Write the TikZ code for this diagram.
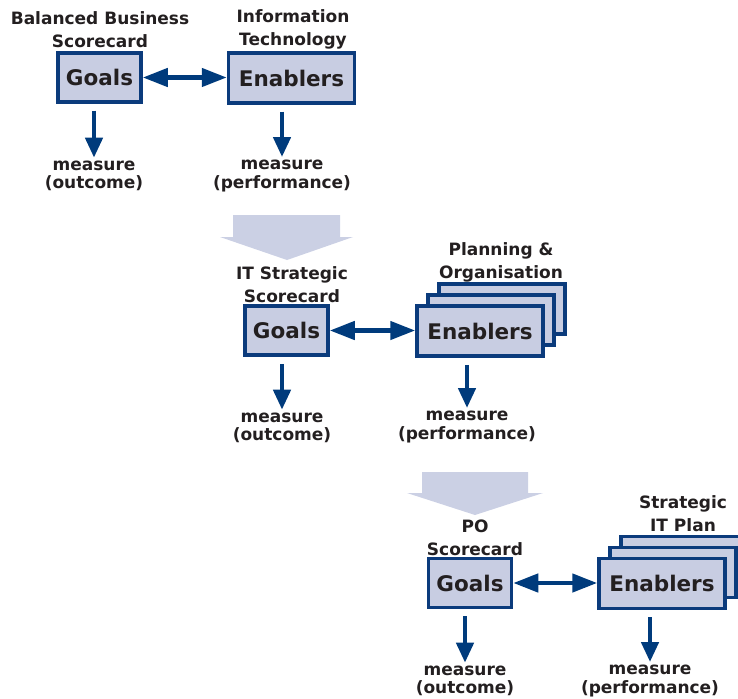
\documentclass[tikz,border=0pt]{standalone}
\usepackage{fontspec}
\setmainfont{DejaVu Sans}
\usetikzlibrary{arrows.meta}
\definecolor{boxfill}{HTML}{C8CDE2}
\definecolor{boxline}{HTML}{0B3B7C}
\definecolor{arrowc}{HTML}{003B7C}
\definecolor{bigfill}{HTML}{CBD0E4}
\definecolor{txt}{HTML}{231F20}
\begin{document}
\begin{tikzpicture}[x=1pt,y=-1pt,
  box/.style={draw=boxline, fill=boxfill, line width=3.5pt, inner sep=0pt, text=txt,
    font=\bfseries\fontsize{21.5}{26}\selectfont},
  goalbox/.style={box, minimum width=83pt, minimum height=49pt},
  enbox/.style={box, minimum width=126pt, minimum height=50pt},
  title/.style={align=center, text=txt, inner sep=0pt, font=\bfseries\fontsize{17}{23}\selectfont},
  meas/.style={align=center, text=txt, inner sep=1pt, font=\bfseries\fontsize{17}{18.5}\selectfont},
  down/.style={draw=arrowc, line width=4.5pt, -{Triangle[length=20pt,width=17pt]}, shorten >=2pt},
  dbl/.style={draw=arrowc, line width=4.5pt, {Triangle[length=25pt,width=18pt]}-{Triangle[length=25pt,width=18pt]}},
  big/.style={fill=bigfill, draw=none}
]
\useasboundingbox (0,0) rectangle (738,698);

% ---------- block 1 ----------
\node[title] (t1) at (100,29.5) {Balanced Business\\Scorecard};
\node[title] (t2) at (293,29.5) {Information\\Technology};
\node[goalbox] (g1) at (99.5,77.5) {Goals};
\node[enbox] (e1) at (291.5,78) {Enablers};
\draw[dbl] (g1.east) -- (e1.west |- g1.east);
\node[meas] (m1) at (94,176) {measure\\(outcome)};
\node[meas] (p1) at (282,176) {measure\\(performance)};
\draw[down] (g1.south -| m1.north) ++(0,7) -- (m1.north);
\draw[down] (e1.south -| p1.north) ++(0,7) -- (p1.north);

% big arrow 1
\fill[big] (233,215) -- (340,215) -- (340,237) -- (353,237) -- (287,260) -- (220,237) -- (233,237) -- cycle;

% ---------- block 2 ----------
\node[title] (t3) at (292,285) {IT Strategic\\Scorecard};
\node[title] (t4) at (501,262) {Planning \&\\Organisation};
\node[goalbox] (g2) at (286.5,330.5) {Goals};
\node[enbox] (e2c) at (502,309) {};
\node[enbox] (e2b) at (491,320) {};
\node[enbox] (e2) at (480,331) {Enablers};
\draw[dbl] (g2.east) -- (e2.west |- g2.east);
\node[meas] (m2) at (282,428) {measure\\(outcome)};
\node[meas] (p2) at (467,427) {measure\\(performance)};
\draw[down] (g2.south -| m2.north) ++(0,7) -- (m2.north);
\draw[down] (e2.south -| p2.north) ++(0,7) -- (p2.north);

% big arrow 2
\fill[big] (422,472) -- (528,472) -- (528,493) -- (543,493) -- (475,515) -- (407,493) -- (422,493) -- cycle;

% ---------- block 3 ----------
\node[title] (t5) at (475,538) {PO\\Scorecard};
\node[title] (t6) at (683,514) {Strategic\\IT Plan};
\node[goalbox] (g3) at (470,583) {Goals};
\node[enbox] (e3c) at (684,561.5) {};
\node[enbox] (e3b) at (673,572.5) {};
\node[enbox] (e3) at (662,583.5) {Enablers};
\draw[dbl] (g3.east) -- (e3.west |- g3.east);
\node[meas] (m3) at (465,681) {measure\\(outcome)};
\node[meas] (p3) at (650,681) {measure\\(performance)};
\draw[down] (g3.south -| m3.north) ++(0,7) -- (m3.north);
\draw[down] (e3.south -| p3.north) ++(0,7) -- (p3.north);
\end{tikzpicture}
\end{document}
